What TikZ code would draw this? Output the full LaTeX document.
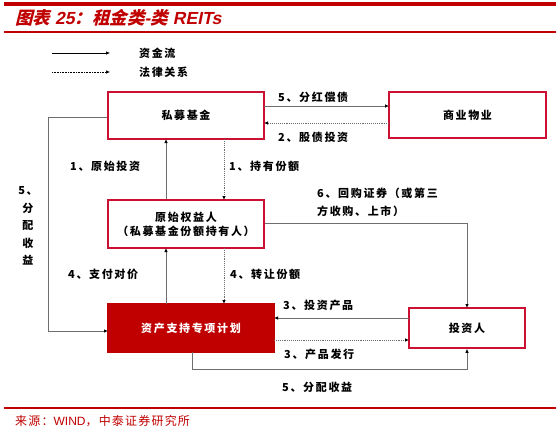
\documentclass[tikz,border=0pt]{standalone}
\usepackage{fontspec}
\usetikzlibrary{arrows.meta}
\setmainfont{Liberation Sans}
\newfontfamily\cjk[LetterSpace=10]{Noto Sans CJK SC}
\newfontfamily\cjkb[LetterSpace=15]{Noto Sans CJK SC}
\newfontfamily\titlecjk[FakeSlant=0.25]{Noto Sans CJK SC}
\newfontfamily\titlelat[FakeSlant=0.2]{Liberation Sans}
\definecolor{hdred}{RGB}{192,0,0}
\definecolor{boxred}{RGB}{204,16,52}
\definecolor{lngray}{RGB}{110,110,110}
\tikzset{
  box/.style={draw=boxred,line width=1.5pt,fill=white,rectangle,inner sep=0pt,align=center,font=\cjkb\bfseries\fontsize{11}{14}\selectfont},
  lbl/.style={inner sep=0pt,anchor=west,align=left,font=\cjkb\bfseries\fontsize{11}{18}\selectfont},
  flow/.style={draw=lngray,line width=0.9pt,-{Latex[length=4pt,width=3.5pt,color=black]}},
  law/.style={draw=lngray,line width=0.9pt,densely dotted,-{Latex[length=4pt,width=3.5pt,color=black]}},
  redrule/.style={draw=hdred}
}
\begin{document}
\begin{tikzpicture}[x=1pt,y=-1pt]
\useasboundingbox (0,0) rectangle (560,434);
% header
\draw[redrule,line width=4pt] (4,4) -- (556,4);
\draw[redrule,line width=2pt] (4,32) -- (556,32);
\node[anchor=west,inner sep=0pt,text=hdred] (title) at (15,18)
  {\titlecjk\bfseries\fontsize{17.5}{17.5}\selectfont 图表\hspace{5pt}{\titlelat\bfseries 25}：租金类{\titlelat\bfseries -}类\hspace{5pt}{\titlelat\bfseries REITs}};
% legend
\coordinate (l1a) at (52,53); \coordinate (l1b) at (110,53);
\coordinate (l2a) at (52,72); \coordinate (l2b) at (110,72);
\draw[line width=0.6pt,-{Latex[length=4pt,width=3.5pt]}] (l1a) -- (l1b);
\draw[line width=0.6pt,densely dotted,-{Latex[length=4pt,width=3.5pt]}] (l2a) -- (l2b);
\node[lbl] (lg1) at (139,53) {资金流};
\node[lbl] (lg2) at (139,72) {法律关系};
% boxes
\node[box,minimum width=156pt,minimum height=47pt] (pm) at (186,115.5) {私募基金};
\node[box,minimum width=157pt,minimum height=46pt] (sy) at (467.5,115) {商业物业};
\node[box,minimum width=156pt,minimum height=48pt] (ys) at (186,224) {原始权益人\\（私募基金份额持有人）};
\node[box,fill=hdred,draw=hdred,text=white,minimum width=166pt,minimum height=48pt] (zc) at (191,328) {资产支持专项计划};
\node[box,minimum width=116pt,minimum height=40pt] (tz) at (467,328) {投资人};
% coordinates
\coordinate (a2) at (166,139);
\coordinate (b1) at (224,139); \coordinate (b2) at (224,200);
\coordinate (c1) at (166,304); \coordinate (c2) at (166,248);
\coordinate (d1) at (224,248); \coordinate (d2) at (224,304);
\coordinate (e1) at (264,106); \coordinate (e2) at (389,106);
\coordinate (f1) at (389,123); \coordinate (f2) at (264,123);
\coordinate (g1) at (409,318); \coordinate (g2) at (274,318);
\coordinate (h1) at (274,340); \coordinate (h2) at (409,340);
\coordinate (lc) at (48,117); \coordinate (lz) at (108,331);
\coordinate (bz) at (192,352); \coordinate (bc) at (192,369);
\coordinate (ti) at (467,308);
% connectors
\draw[flow] (ys.north -| a2) -- (a2);
\draw[law] (b1) -- (b2);
\draw[flow] (c1) -- (c2);
\draw[law] (d1) -- (d2);
\draw[flow] (e1) -- (e2);
\draw[law] (f1) -- (f2);
\draw[flow] (g1) -- (g2);
\draw[law] (h1) -- (h2);
\draw[flow] (pm.west |- lc) -- (lc) |- (lz);
\draw[flow] (bz) -- (bc) -| (tz.south);
\draw[flow] (ys.east |- 0,223) -| (ti);
% labels
\node[lbl] (t1) at (70,166) {1、原始投资};
\node[lbl] (t2) at (229,166) {1、持有份额};
\node[lbl] (t3) at (68,274) {4、支付对价};
\node[lbl] (t4) at (230,274) {4、转让份额};
\node[lbl] (t5) at (278,97) {5、分红偿债};
\node[lbl] (t6) at (278,137) {2、股债投资};
\node[lbl] (t7) at (283,305) {3、投资产品};
\node[lbl] (t8) at (284,354) {3、产品发行};
\node[lbl] (t9) at (282,387) {5、分配收益};
\node[lbl,anchor=north west] (t10) at (317,188) {6、回购证券（或第三\\方收购、上市）};
\node[inner sep=0pt,align=center,font=\cjkb\bfseries\fontsize{11}{17.5}\selectfont] (t11) at (28,226) {5、\\分\\配\\收\\益};
% footer
\draw[redrule,line width=2pt] (4,408) -- (556,408);
\node[anchor=west,inner sep=0pt,text=hdred,font=\cjk\fontsize{12}{12}\selectfont] (src) at (15,421) {来源：{\rmfamily WIND}，中泰证券研究所};
\end{tikzpicture}
\end{document}
